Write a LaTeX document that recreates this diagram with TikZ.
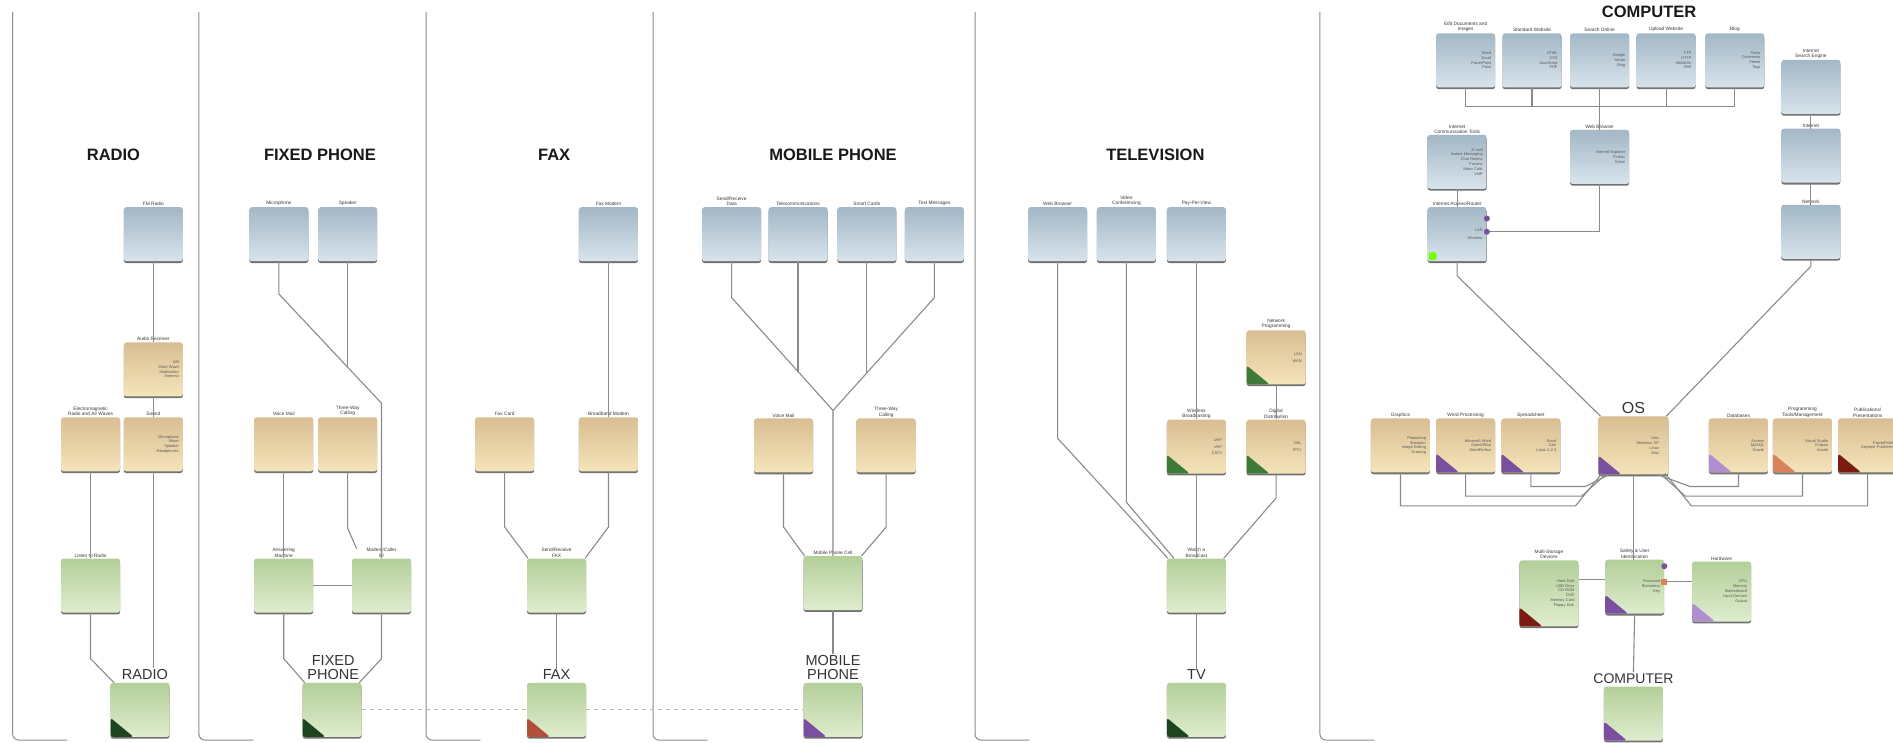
\documentclass[tikz,border=0pt]{standalone}
\usepackage{fontspec}
\setmainfont{Liberation Sans}
\usetikzlibrary{shadows,calc}
\definecolor{bluetop}{HTML}{A3B7C6}
\definecolor{bluebot}{HTML}{D8E4EC}
\definecolor{tantop}{HTML}{D9BE92}
\definecolor{tanbot}{HTML}{F5E4BA}
\definecolor{grtop}{HTML}{B3CF99}
\definecolor{grbot}{HTML}{DFEDCE}
\definecolor{lin}{HTML}{8A8A8A}
\definecolor{cdkgreen}{HTML}{1F4422}
\definecolor{cgreen}{HTML}{3E7B3A}
\definecolor{cfax}{HTML}{B0503A}
\definecolor{cpurple}{HTML}{7B4FA0}
\definecolor{clpurple}{HTML}{B08FD0}
\definecolor{corange}{HTML}{D9835A}
\definecolor{cdred}{HTML}{7A1C12}
\tikzset{
  boxbase/.style={rectangle, rounded corners=2.5pt, minimum width=59pt, minimum height=54pt,
    inner sep=2pt, text width=51pt, align=right, font=\fontsize{3.9}{4.8}\selectfont, text=black!65,
    drop shadow={shadow xshift=0pt, shadow yshift=-1.8pt, fill=black!65, opacity=0.85}},
  bluebox/.style={boxbase, top color=bluetop, bottom color=bluebot},
  tanbox/.style={boxbase, top color=tantop, bottom color=tanbot},
  greenbox/.style={boxbase, top color=grtop, bottom color=grbot},
  lbl/.style={font=\fontsize{4.8}{5.3}\selectfont, text=black!78, align=center, inner sep=1pt},
  lab/.style={label={[lbl]above:#1}},
  cornerc/.style={path picture={\fill[#1] (path picture bounding box.south west) -- ([yshift=19pt]path picture bounding box.south west) -- ([xshift=23pt]path picture bounding box.south west) -- cycle;}},
  conn/.style={draw=lin, line width=1.1pt},
  dashline/.style={draw=black!28, line width=0.9pt, dash pattern=on 4pt off 4pt},
  panel/.style={draw=black!45, line width=1pt, rounded corners=6pt},
  ttl/.style={font=\fontsize{16.5}{18}\selectfont\bfseries, text=black!90, inner sep=0pt},
  blab/.style={font=\fontsize{14.5}{14}\selectfont, text=black!80, align=center, inner sep=1pt},
  dotc/.style={circle, inner sep=0pt, minimum size=6pt, fill=#1},
}
\begin{document}
\begin{tikzpicture}[x=1.2073pt,y=-1.2073pt]
\fill[white] (0,0) rectangle (1568,615.4);
\useasboundingbox (0,0) rectangle (1568,615.4);
% panels
\foreach \px in {10.5,164.8,352.9,540.9,807.6,1093.3}{
  \draw[panel] (\px,10) |- (\px+45,613);
}
% ================= RADIO =================
\node[ttl] (tRadio) at (94,128) {RADIO};
\node[bluebox, lab={FM Radio}] (fm) at (127,194) {};
\node[tanbox, lab={Audio Receiver}] (audio) at (127,306) {AM\\Short Wave\\Modulation\\Antenna};
\node[tanbox, lab={Electromagnetic\\Radio and Air Waves}] (em) at (75,368) {};
\node[tanbox, lab={Sound}] (snd) at (127,368) {Microphone\\Mixer\\Speaker\\Headphones};
\node[greenbox, lab={Listen to Radio}] (listen) at (75,485) {};
\node[greenbox, cornerc=cdkgreen] (radio) at (116,588) {};
\node[blab, anchor=south] (lRadio) at (120,564) {RADIO};
\draw[conn] (fm) -- (audio);
\draw[conn] (audio) -- (snd);
\draw[conn] (snd.south) -- (snd.south |- lRadio.north);
\draw[conn] (em) -- (listen);
\draw[conn] (listen.south) -- ++(0,38) -- ($(radio.north west)+(3,0)$);
% ================= FIXED PHONE =================
\node[ttl] (tFixed) at (265,128) {FIXED PHONE};
\node[bluebox, lab={Microphone}] (mic) at (231,194) {};
\node[bluebox, lab={Speaker}] (spk) at (288,194) {};
\node[tanbox, lab={Voice Mail}] (vm) at (235,368) {};
\node[tanbox, lab={Three-Way\\Calling}] (twc) at (288,368) {};
\node[greenbox, lab={Answering\\Machine}] (ans) at (235,485) {};
\node[greenbox, lab={Modem/Caller\\ID}] (modem) at (316,485) {};
\node[greenbox, cornerc=cdkgreen] (fixed) at (275,588) {};
\node[blab, anchor=south] (lFixed) at (276,564) {FIXED\\PHONE};
\draw[conn] (mic.south) -- ++(0,27) -- (modem.north |- 0,334) -- (modem.north);
\draw[conn] (spk.south) -- (spk.south |- 0,304);
\draw[conn] (vm) -- (ans);
\draw[conn] (twc.south) -- ++(0,47) -- ($(modem.north west)+(4,-8)$);
\draw[conn] (ans) -- (modem);
\draw[conn] (ans.south) -- ++(0,38) -- ($(fixed.north west)+(2,0)$);
\draw[conn] (modem.south) -- ++(0,38) -- ($(fixed.north east)+(-2,0)$);
% ================= FAX =================
\node[ttl] (tFax) at (459,128) {FAX};
\node[bluebox, lab={Fax Modem}] (faxm) at (504,194) {};
\node[tanbox, lab={Fax Card}] (faxc) at (418,368) {};
\node[tanbox, lab={Broadband Modem}] (bbm) at (504,368) {};
\node[greenbox, lab={Send/Receive\\FAX}] (sr) at (461,485) {};
\node[greenbox, cornerc=cfax] (fax) at (461,588) {};
\node[blab, anchor=south] (lFax) at (461,564) {FAX};
\draw[conn] (faxm) -- (bbm);
\draw[conn] (faxc.south) -- ++(0,46) -- ($(sr.north west)+(1,0)$);
\draw[conn] (bbm.south) -- ++(0,46) -- ($(sr.north east)+(-1,0)$);
\draw[conn] (sr.south) -- (lFax.north);
% ================= MOBILE PHONE =================
\node[ttl] (tMob) at (690,128) {MOBILE PHONE};
\node[bluebox, lab={Send/Receive\\Data}] (sd) at (606,194) {};
\node[bluebox, lab={Telecommunications}] (tel) at (661,194) {};
\node[bluebox, lab={Smart Cards}] (sc) at (718,194) {};
\node[bluebox, lab={Text Messages}] (tm) at (774,194) {};
\node[tanbox, lab={Voice Mail}] (vm2) at (649,369) {};
\node[tanbox, lab={Three-Way\\Calling}] (twc2) at (734,369) {};
\node[greenbox, lab={Mobile Phone Cell}] (mpc) at (690,483) {};
\node[greenbox, cornerc=cpurple] (mob) at (690,588) {};
\node[blab, anchor=south] (lMob) at (690,564) {MOBILE\\PHONE};
\coordinate (hub) at (690,340);
\draw[conn] (sd.south) -- ++(0,30) -- (hub) -- (mpc.north);
\draw[conn] (tm.south) -- ++(0,30) -- (hub);
\draw[conn] (tel.south) -- (tel.south |- 0,308);
\draw[conn] (sc.south) -- (sc.south |- 0,309);
\draw[conn] (vm2.south) -- ++(0,45) -- ($(mpc.north west)+(1,0)$);
\draw[conn] (twc2.south) -- ++(0,45) -- ($(mpc.north east)+(-1,0)$);
\draw[conn] (mpc.south) -- (lMob.north);
% dashed link
\draw[dashline] (fixed.east) -- (fax.west);
\draw[dashline] (fax.east) -- (mob.west);
% ================= TELEVISION =================
\node[ttl] (tTv) at (957,128) {TELEVISION};
\node[bluebox, lab={Web Browser}] (wb) at (876,194) {};
\node[bluebox, lab={Video\\Conferencing}] (vc) at (933,194) {};
\node[bluebox, lab={Pay-Per-View}] (ppv) at (991,194) {};
\node[tanbox, cornerc=cgreen, lab={Network\\Programming}] (np) at (1057,296) {LAN\\[2pt]WAN};
\node[tanbox, cornerc=cgreen, lab={Wireless\\Broadcasting}] (wbc) at (991,370) {UHF\\[2pt]VHF\\[2pt]CATV};
\node[tanbox, cornerc=cgreen, lab={Digital\\Distribution}] (dd) at (1057,370) {DSL\\[2pt]IPTV};
\node[greenbox, lab={Watch a\\Broadcast}] (wab) at (991,485) {};
\node[greenbox, cornerc=cdkgreen] (tv) at (991,588) {};
\node[blab, anchor=south] (lTv) at (991,564) {TV};
\draw[conn] (wb.south) -- (wb.south |- 0,363) -- ($(wab.north west)+(1,0)$);
\draw[conn] (vc.south) -- (vc.south |- 0,416) -- ($(wab.north west)+(6,0)$);
\draw[conn] (ppv) -- (wbc);
\draw[conn] (wbc) -- (wab);
\draw[conn] (np) -- (dd);
\draw[conn] (dd.south) -- ++(0,20) -- ($(wab.north east)+(-2,0)$);
\draw[conn] (wab.south) -- (lTv.north);
% ================= COMPUTER =================
\node[ttl] (tComp) at (1366,9.5) {COMPUTER};
\node[bluebox, lab={Edit Documents and\\Images}] (edit) at (1214,50) {Word\\Excel\\PowerPoint\\Paint};
\node[bluebox, lab={Standard Website}] (std) at (1269,50) {HTML\\CSS\\JavaScript\\PHP};
\node[bluebox, lab={Search Online}] (search) at (1325,50) {Google\\Yahoo\\Bing};
\node[bluebox, lab={Upload Website}] (upload) at (1380,50) {FTP\\HTTP\\WebDAV\\SSH};
\node[bluebox, lab={Blog}] (blog) at (1437,50) {Posts\\Comments\\Feeds\\Tags};
\node[bluebox, lab={Internet\\Communication Tools}] (ict) at (1207,134) {E-mail\\Instant Messaging\\Chat Rooms\\Forums\\Video Calls\\VoIP};
\node[bluebox, lab={Internet Access/Router},
  path picture={\fill[green!55!yellow] ([xshift=1pt,yshift=1pt]path picture bounding box.south west) rectangle ++(8pt,8pt);}] (router) at (1207,194) {LAN\\[3pt]Wireless};
\node[bluebox, lab={Web Browser}] (webb) at (1325,130) {Internet Explorer\\Firefox\\Safari};
\node[bluebox, lab={Internet\\Search Engine}] (ise) at (1500,72) {};
\node[bluebox, lab={Internet}] (inet) at (1500,129) {};
\node[bluebox, lab={Network}] (net) at (1500,192) {};
\draw[conn] (edit.south) -- (edit.south |- 0,88) -- (blog.south |- 0,88) -- (blog.south);
\draw[conn] (std.south) -- (std.south |- 0,88);
\draw[conn] (upload.south) -- (upload.south |- 0,88);
\draw[conn] (search) -- (webb);
\draw[conn] (ict) -- (router);
\draw[conn] (webb.south) |- ($(router.east)+(0,-2)$);
\node[dotc=cpurple] (rd1) at ($(router.east)+(0,-13)$) {};
\node[dotc=cpurple] (rd2) at ($(router.east)+(0,-2)$) {};
\draw[conn] (ise) -- (inet);
\draw[conn] (inet) -- (net);
% OS row
\node[tanbox, minimum width=70pt, minimum height=58pt, cornerc=cpurple] (os) at (1353,369) {Unix\\Windows XP\\Linux\\Mac};
\node[font=\fontsize{16}{16}\selectfont, text=black!80, anchor=south, inner sep=0pt] (lOS) at (1353,343) {OS};
\node[tanbox, lab={Graphics}] (gr) at (1160,369) {Photoshop\\Illustrator\\Image Editing\\Drawing};
\node[tanbox, cornerc=cpurple, lab={Word Processing}] (wp) at (1214,369) {Microsoft Word\\OpenOffice\\WordPerfect};
\node[tanbox, cornerc=cpurple, lab={Spreadsheet}] (ss) at (1268,369) {Excel\\Calc\\Lotus 1-2-3};
\node[tanbox, cornerc=clpurple, lab={Databases}] (db) at (1440,369) {Access\\MySQL\\Oracle};
\node[tanbox, cornerc=corange, lab={Programming\\Tools/Management}] (pt) at (1493,369) {Visual Studio\\Eclipse\\Xcode};
\node[tanbox, cornerc=cdred, lab={Publications/\\Presentations}] (pub) at (1547,369) {PowerPoint\\Keynote Publisher};
\draw[conn] (router.south) -- ++(0,12) -- ($(os.north west)+(2,0)$);
\draw[conn] (net.south) -- ++(0,6) -- ($(os.north east)+(-2,0)$);
\draw[conn] (gr.south) -- (gr.south |- 0,419) -- (1305,419) -- ($(os.south west)+(3,-1)$);
\draw[conn] (wp.south) -- (wp.south |- 0,411) -- (1310,411) -- ($(os.south west)+(6,0)$);
\draw[conn] (ss.south) -- (ss.south |- 0,403) -- (1313,403) -- ($(os.south west)+(9,0)$);
\draw[conn] (db.south) -- (db.south |- 0,403) -- (1400,403) -- ($(os.south east)+(-9,0)$);
\draw[conn] (pt.south) -- (pt.south |- 0,411) -- (1396,411) -- ($(os.south east)+(-6,0)$);
\draw[conn] (pub.south) -- (pub.south |- 0,419) -- (1401,419) -- ($(os.south east)+(-3,-1)$);
% green row
\node[greenbox, minimum height=66pt, cornerc=cdred, lab={Multi-Storage\\Devices}] (msd) at (1283,491.5) {Hard Disk\\USB Drive\\CD-ROM\\DVD\\Memory Card\\Floppy Disk};
\node[greenbox, cornerc=cpurple, lab={Safety \& User\\Identification}] (safe) at (1354,486) {Password\\Biometrics\\Key};
\node[greenbox, minimum height=60pt, cornerc=clpurple, lab={Hardware}] (hw) at (1426,490) {CPU\\Memory\\Motherboard\\Input Devices\\Output};
\node[greenbox, cornerc=cpurple] (comp) at (1353,591) {};
\node[blab, anchor=south, font=\fontsize{14}{14}\selectfont] (lComp) at (1353,567) {COMPUTER};
\draw[conn] (os.south) -- (os.south |- safe.north);
\draw[conn] (msd.east |- 0,480) -- (safe.west |- 0,480);
\draw[conn] (safe.east |- 0,482) -- (hw.west |- 0,482);
\node[dotc=cpurple] (sd1) at (safe.east |- 0,469) {};
\node[dotc=corange, rectangle, minimum size=6pt] (sd2) at (safe.east |- 0,482) {};
\draw[conn] (safe.south) -- (lComp.north);
\end{tikzpicture}
\end{document}
